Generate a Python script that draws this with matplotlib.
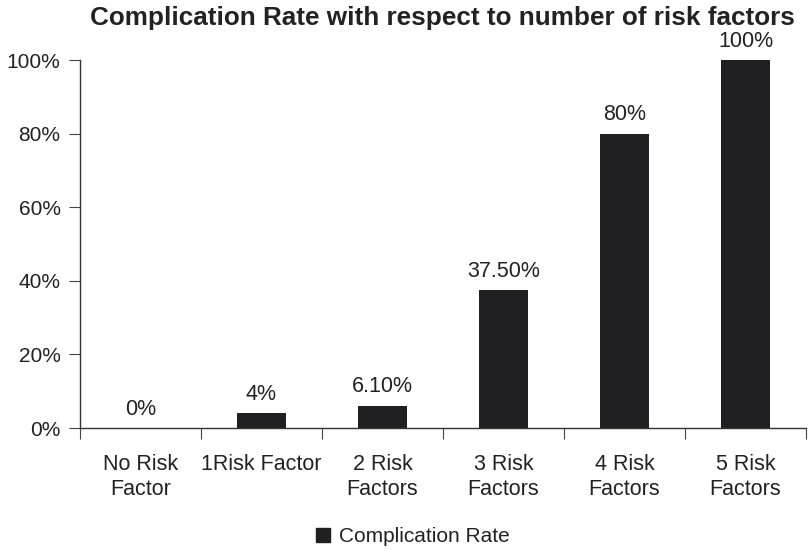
import matplotlib.pyplot as plt
from matplotlib.patches import Patch

plt.rcParams['font.family'] = ['Liberation Sans', 'DejaVu Sans']

categories = ["No Risk\nFactor", "1Risk Factor", "2 Risk\nFactors", "3 Risk\nFactors",
              "4 Risk\nFactors", "5 Risk\nFactors"]
rates = [0, 4, 6.1, 37.5, 80, 100]
value_labels = ["0%", "4%", "6.10%", "37.50%", "80%", "100%"]
yticks = [0, 20, 40, 60, 80, 100]
ytick_labels = ["0%", "20%", "40%", "60%", "80%", "100%"]

bar_color = "#202022"
text_color = "#222222"

fig = plt.figure(figsize=(8.08, 5.51), dpi=100)
ax = fig.add_axes([80 / 808, 1 - 428 / 551, 726 / 808, 368 / 551])

x = [i + 0.5 for i in range(len(categories))]
ax.bar(x, rates, width=0.4, color=bar_color, zorder=2)

for xi, v, lab in zip(x, rates, value_labels):
    ax.annotate(lab, (xi, v), xytext=(0, 6), textcoords="offset points",
                ha="center", va="bottom", fontsize=15.5, color=text_color)

ax.set_xlim(0, len(categories))
ax.set_ylim(0, 100)
ax.set_yticks(yticks)
ax.set_yticklabels(ytick_labels, fontsize=15, color=text_color)
ax.set_xticks(range(len(categories) + 1))
ax.set_xticklabels([])
ax.set_xticks(x, minor=True)
ax.set_xticklabels(categories, minor=True, fontsize=15.5, color=text_color,
                   linespacing=1.2)
ax.tick_params(axis="x", which="minor", length=0, pad=19)
ax.tick_params(axis="x", which="major", length=8, color="#444444", direction="out")
ax.tick_params(axis="y", length=8, color="#444444", pad=6)

for side in ("top", "right"):
    ax.spines[side].set_visible(False)
for side in ("left", "bottom"):
    ax.spines[side].set_color("#333333")
    ax.spines[side].set_linewidth(1.0)

fig.suptitle("Complication Rate with respect to number of risk factors",
             x=442 / 808, y=1 - 18 / 551, va="center", fontsize=18.8,
             fontweight="bold", color=text_color)

handle = Patch(facecolor=bar_color, edgecolor=bar_color)
fig.legend([handle], ["Complication Rate"], loc="center",
           bbox_to_anchor=(413 / 808, 1 - 537 / 551), frameon=False,
           fontsize=15, handlelength=0.65, handleheight=0.65, handletextpad=0.45,
           labelcolor=text_color)

fig.savefig("out.png", dpi=100)
